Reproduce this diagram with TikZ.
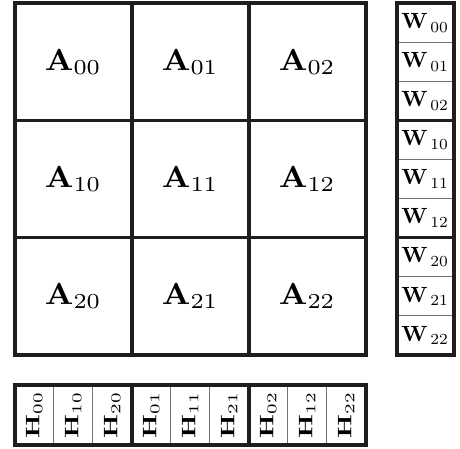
\documentclass[tikz,border=0pt]{standalone}
\usepackage{amsmath}
\usepackage{xcolor}
\usepackage{tikz}
\usetikzlibrary{positioning}
\definecolor{gridblack}{RGB}{30,30,30}
\definecolor{gridgray}{RGB}{115,115,115}
\newcommand{\alab}[1]{\scalebox{3.3}[3.05]{$\mathbf{A}_{#1}$}}
\newcommand{\wlab}[1]{\scalebox{2.2}{$\mathbf{W}_{\,#1}$}}
\newcommand{\hlab}[1]{\rotatebox{90}{\scalebox{2.65}[1.95]{$\mathbf{H}_{#1}$}}}

\begin{document}
\begin{tikzpicture}[
  x=1pt, y=1pt,
  node distance=0pt,
  ablock/.style={rectangle, draw=gridblack, line width=3.8pt, minimum width=117pt, minimum height=117.1pt, inner sep=0pt, outer sep=0pt},
  wcell/.style={rectangle, draw=gridgray, line width=1pt, minimum width=57pt, minimum height=39.04pt, inner sep=0pt, outer sep=0pt},
  hcell/.style={rectangle, draw=gridgray, line width=1pt, minimum width=39pt, minimum height=60pt, inner sep=0pt, outer sep=0pt},
  group/.style={draw=gridblack, line width=3.8pt}
]
\useasboundingbox (0,0) rectangle (460,-448);

% blocks of A
\node[ablock, anchor=north west] (a00) at (14.7,-3.3) {\alab{00}};
\node[ablock, right=of a00] (a01) {\alab{01}};
\node[ablock, right=of a01] (a02) {\alab{02}};
\node[ablock, below=of a00] (a10) {\alab{10}};
\node[ablock, right=of a10] (a11) {\alab{11}};
\node[ablock, right=of a11] (a12) {\alab{12}};
\node[ablock, below=of a10] (a20) {\alab{20}};
\node[ablock, right=of a20] (a21) {\alab{21}};
\node[ablock, right=of a21] (a22) {\alab{22}};

% column of W
\node[wcell, anchor=north west] (w00) at (396.7,-3.3) {\wlab{00}};
\node[wcell, below=of w00] (w01) {\wlab{01}};
\node[wcell, below=of w01] (w02) {\wlab{02}};
\node[wcell, below=of w02] (w10) {\wlab{10}};
\node[wcell, below=of w10] (w11) {\wlab{11}};
\node[wcell, below=of w11] (w12) {\wlab{12}};
\node[wcell, below=of w12] (w20) {\wlab{20}};
\node[wcell, below=of w20] (w21) {\wlab{21}};
\node[wcell, below=of w21] (w22) {\wlab{22}};

% row of H
\node[hcell, anchor=north west] (h00) at (14.7,-385) {\hlab{00}};
\node[hcell, right=of h00] (h10) {\hlab{10}};
\node[hcell, right=of h10] (h20) {\hlab{20}};
\node[hcell, right=of h20] (h01) {\hlab{01}};
\node[hcell, right=of h01] (h11) {\hlab{11}};
\node[hcell, right=of h11] (h21) {\hlab{21}};
\node[hcell, right=of h21] (h02) {\hlab{02}};
\node[hcell, right=of h02] (h12) {\hlab{12}};
\node[hcell, right=of h12] (h22) {\hlab{22}};

\draw[group] (w00.north west) rectangle (w02.south east);
\draw[group] (w10.north west) rectangle (w12.south east);
\draw[group] (w20.north west) rectangle (w22.south east);
\draw[group] (h00.north west) rectangle (h20.south east);
\draw[group] (h01.north west) rectangle (h21.south east);
\draw[group] (h02.north west) rectangle (h22.south east);
\end{tikzpicture}
\end{document}
